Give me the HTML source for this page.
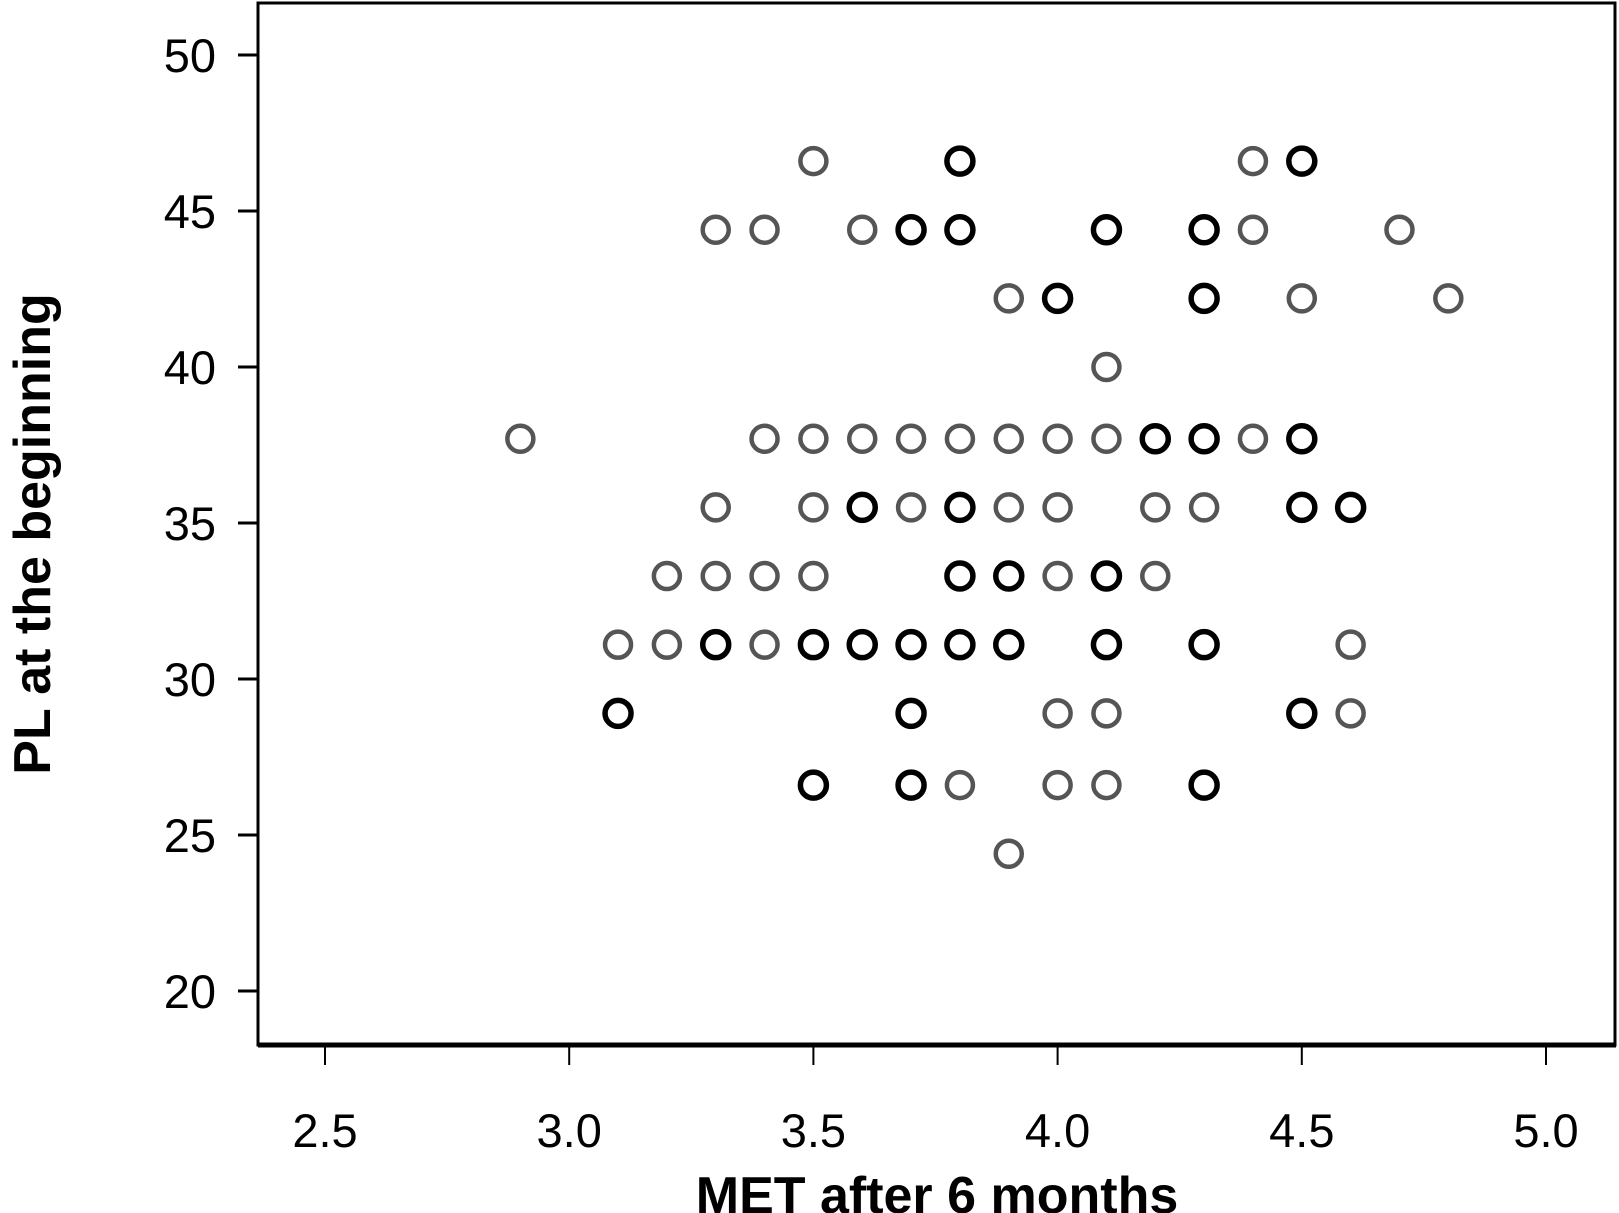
<!DOCTYPE html>
<html><head><meta charset="utf-8"><style>
html,body{margin:0;padding:0;background:#fff;}
svg{display:block;font-family:"Liberation Sans",sans-serif;}
</style></head><body>
<svg id="chart" width="1619" height="1213" viewBox="0 0 1619 1213">
<rect x="258" y="3" width="1357" height="1042" fill="none" stroke="#000" stroke-width="3"/>
<line x1="258" y1="1045" x2="1616" y2="1045" stroke="#000" stroke-width="5"/>
<g id="xticks"></g>
<g id="yticks"></g>
<g id="points"></g>
<text x="937" y="1213" text-anchor="middle" font-size="52" font-weight="bold">MET after 6 months</text>
<text transform="translate(50,534) rotate(-90)" text-anchor="middle" font-size="52" font-weight="bold">PL at the beginning</text>
</svg>
<script>
const xTicks=[2.5,3.0,3.5,4.0,4.5,5.0];
const xTickLabels=["2.5","3.0","3.5","4.0","4.5","5.0"];
const yTicks=[20,25,30,35,40,45,50];
const yTickLabels=["20","25","30","35","40","45","50"];
const xVals=[3.5,3.8,4.4,4.5, 3.3,3.4,3.6,3.7,3.8,4.1,4.3,4.4,4.7, 3.9,4.0,4.3,4.5,4.8, 4.1,
2.9,3.4,3.5,3.6,3.7,3.8,3.9,4.0,4.1,4.2,4.3,4.4,4.5,
3.3,3.5,3.6,3.7,3.8,3.9,4.0,4.2,4.3,4.5,4.6,
3.2,3.3,3.4,3.5,3.8,3.9,4.0,4.1,4.2,
3.1,3.2,3.3,3.4,3.5,3.6,3.7,3.8,3.9,4.1,4.3,4.6,
3.1,3.7,4.0,4.1,4.5,4.6,
3.5,3.7,3.8,4.0,4.1,4.3,
3.9];
const yVals=[46.6,46.6,46.6,46.6, 44.4,44.4,44.4,44.4,44.4,44.4,44.4,44.4,44.4, 42.2,42.2,42.2,42.2,42.2, 40.0,
37.7,37.7,37.7,37.7,37.7,37.7,37.7,37.7,37.7,37.7,37.7,37.7,37.7,
35.5,35.5,35.5,35.5,35.5,35.5,35.5,35.5,35.5,35.5,35.5,
33.3,33.3,33.3,33.3,33.3,33.3,33.3,33.3,33.3,
31.1,31.1,31.1,31.1,31.1,31.1,31.1,31.1,31.1,31.1,31.1,31.1,
28.9,28.9,28.9,28.9,28.9,28.9,
26.6,26.6,26.6,26.6,26.6,26.6,
24.4];
const groups=[0,1,0,1, 0,0,0,1,1,1,1,0,0, 0,1,1,0,0, 0,
0,0,0,0,0,0,0,0,0,1,1,0,1,
0,0,1,0,1,0,0,0,0,1,1,
0,0,0,0,1,1,0,1,0,
0,0,1,0,1,1,1,1,1,1,1,0,
1,1,0,0,1,0,
1,1,0,0,0,1,
0];
const NS="http://www.w3.org/2000/svg";
function xs(v){return 325+(v-2.5)*(1546-325)/2.5;}
function ys(v){return 991-(v-20)*(991-55)/30;}
const gx=document.getElementById('xticks'),gy=document.getElementById('yticks'),gp=document.getElementById('points');
xTicks.forEach((t,i)=>{
 const l=document.createElementNS(NS,'line');
 l.setAttribute('x1',xs(t));l.setAttribute('x2',xs(t));l.setAttribute('y1',1047);l.setAttribute('y2',1065);
 l.setAttribute('stroke','#000');l.setAttribute('stroke-width','2');
 
 
 gx.appendChild(l);
 const tx=document.createElementNS(NS,'text');
 tx.setAttribute('x',xs(t));tx.setAttribute('y',1147);tx.setAttribute('text-anchor','middle');tx.setAttribute('font-size','47');
 tx.textContent=xTickLabels[i];
 
 
 gx.appendChild(tx);
});
yTicks.forEach((t,i)=>{
 const l=document.createElementNS(NS,'line');
 l.setAttribute('x1',238);l.setAttribute('x2',258);l.setAttribute('y1',ys(t));l.setAttribute('y2',ys(t));
 l.setAttribute('stroke','#000');l.setAttribute('stroke-width','3');
 
 
 gy.appendChild(l);
 const tx=document.createElementNS(NS,'text');
 tx.setAttribute('x',216);tx.setAttribute('y',ys(t)+17);tx.setAttribute('text-anchor','end');tx.setAttribute('font-size','47');
 tx.textContent=yTickLabels[i];
 
 
 gy.appendChild(tx);
});
xVals.forEach((v,i)=>{
 const c=document.createElementNS(NS,'circle');
 c.setAttribute('cx',xs(v));c.setAttribute('cy',ys(yVals[i]));c.setAttribute('r',13);
 c.setAttribute('fill','none');
 c.setAttribute('stroke',groups[i]?'#000':'#555');
 c.setAttribute('stroke-width',groups[i]?'5.5':'4.5');
 
 
 gp.appendChild(c);
});
</script>
</body></html>
